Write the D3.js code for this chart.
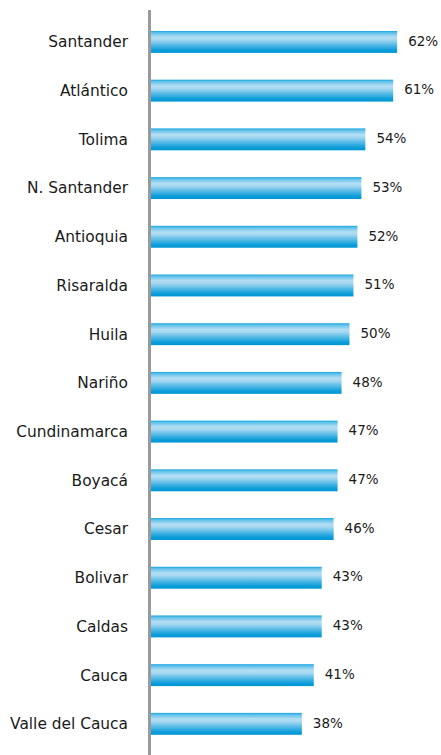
<!DOCTYPE html>
<html>
<head>
<meta charset="utf-8">
<script src="https://cdn.jsdelivr.net/npm/d3@7"></script>
<style>
html,body{margin:0;padding:0;background:#fff;}
svg{display:block;}
</style>
</head>
<body>
<svg id="chart" width="441" height="755"></svg>
<script>
const categories = ["Santander","Atlántico","Tolima","N. Santander","Antioquia","Risaralda","Huila","Nariño","Cundinamarca","Boyacá","Cesar","Bolivar","Caldas","Cauca","Valle del Cauca"];
const values = [62,61,54,53,52,51,50,48,47,47,46,43,43,41,38];

const svg = d3.select("#chart");
const x0 = 151;
const x = d3.scaleLinear().domain([0,100]).range([x0, x0 + 397]);
const y = d3.scaleBand().domain(categories).range([17.6, 748.2]).paddingInner(0.55).paddingOuter(0.275);

const defs = svg.append("defs");
const grad = defs.append("linearGradient").attr("id","barGrad").attr("x1",0).attr("y1",0).attr("x2",0).attr("y2",1);
[["0%","#12a4dc"],["8%","#5ec0ea"],["28%","#b3def4"],["40%","#a6d8f1"],["70%","#41b2e3"],["88%","#0a9cd8"],["100%","#0096d4"]]
  .forEach(([o,c]) => grad.append("stop").attr("offset",o).attr("stop-color",c));

const font = "'DejaVu Sans', sans-serif";

svg.append("g").selectAll("rect").data(values).join("rect")
  .attr("x", x(0))
  .attr("y", (d,i) => y(categories[i]))
  .attr("width", d => x(d) - x(0))
  .attr("height", y.bandwidth())
  .attr("fill", "url(#barGrad)");

svg.append("g").selectAll("text").data(values).join("text")
  .attr("x", d => x(d) + 11)
  .attr("y", (d,i) => y(categories[i]) + y.bandwidth()/2 - 1)
  .attr("dy", "0.35em")
  .attr("font-family", font)
  .attr("font-size", 13.5)
  .attr("fill", "#1a1a1a")
  .text(d => d + "%");

const yAxis = d3.axisLeft(y).tickSize(0).tickPadding(0);
const ag = svg.append("g").attr("transform", `translate(128,0)`).call(yAxis);
ag.select(".domain").remove();
ag.selectAll("text").attr("font-family", font).attr("font-size", 15.4).attr("fill", "#1a1a1a").attr("dy","0.35em");

svg.append("line").attr("x1",149.5).attr("x2",149.5).attr("y1",10).attr("y2",755)
  .attr("stroke","#9a9a9a").attr("stroke-width",3);
</script>
</body>
</html>
